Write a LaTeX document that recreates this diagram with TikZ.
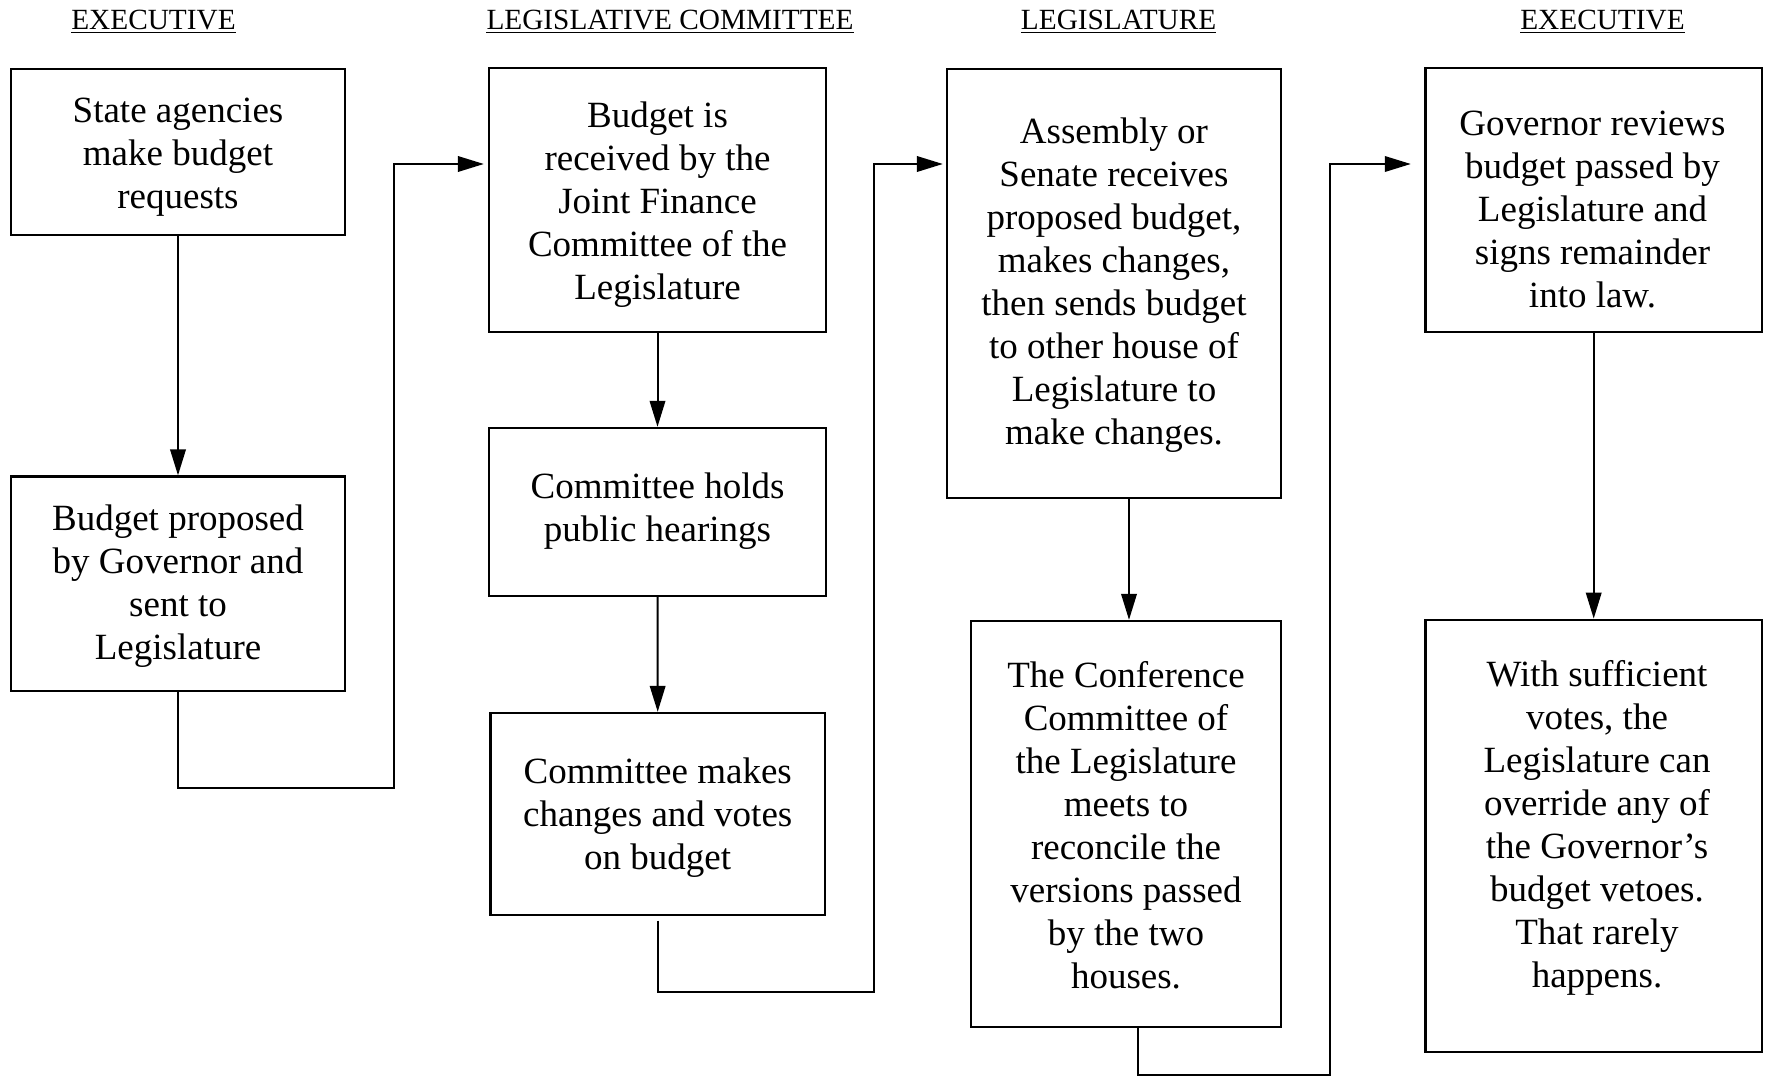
\documentclass[tikz,border=0pt]{standalone}
\usepackage{fontspec}
\setmainfont{Liberation Serif}
\usetikzlibrary{arrows.meta,calc}
\begin{document}
\begin{tikzpicture}[x=1pt,y=-1pt,
  box/.style={draw, line width=2.3pt, inner sep=0pt},
  txt/.style={align=center, font=\fontsize{37}{43}\selectfont, inner sep=0pt},
  hdr/.style={font=\fontsize{29.3}{33}\selectfont, inner sep=0pt, anchor=base},
  uline/.style={line width=1.4pt},
  conn/.style={line width=2pt},
  arr/.style={conn, -{Triangle[length=26pt,width=15.5pt]}}]
\useasboundingbox (0,0) rectangle (1771,1076);

% headers
\node[hdr] (h1) at (153.5,29.3) {EXECUTIVE};
\node[hdr] (h2) at (670,29.3) {LEGISLATIVE COMMITTEE};
\node[hdr] (h3) at (1118.6,29.3) {LEGISLATURE};
\node[hdr] (h4) at (1602.5,29.3) {EXECUTIVE};
\foreach \h in {h1,h2,h3,h4}{
  \draw[uline] ([yshift=-3pt]\h.base west) -- ([yshift=-3pt]\h.base east);
}

% boxes
\node[box, minimum width=334pt, minimum height=166pt] (A) at (178,152) {};
\node[box, minimum width=334pt, minimum height=214.5pt] (B) at (178,583.8) {};
\node[box, minimum width=337pt, minimum height=264pt] (C) at (657.5,200) {};
\node[box, minimum width=337pt, minimum height=168pt] (D) at (657.5,512) {};
\node[box, minimum width=334.5pt, minimum height=202pt] (E) at (657.7,814) {};
\node[box, minimum width=334pt, minimum height=429pt] (F) at (1114,283.5) {};
\node[box, minimum width=310pt, minimum height=406pt] (G) at (1126,824) {};
\node[box, minimum width=336.5pt, minimum height=264pt] (H) at (1593.7,200) {};
\node[box, minimum width=336.5pt, minimum height=432.5pt] (I) at (1593.7,836) {};

% texts
\node[txt] (tA) at (178,157.5) {State agencies\\make budget\\requests};
\node[txt] (tB) at (178,586.5) {Budget proposed\\by Governor and\\sent to\\Legislature};
\node[txt] (tC) at (657.5,205) {Budget is\\received by the\\Joint Finance\\Committee of the\\Legislature};
\node[txt] (tD) at (657.5,511.5) {Committee holds\\public hearings};
\node[txt] (tE) at (657.7,817.5) {Committee makes\\changes and votes\\on budget};
\node[txt] (tF) at (1114,285) {Assembly or\\Senate receives\\proposed budget,\\makes changes,\\then sends budget\\to other house of\\Legislature to\\make changes.};
\node[txt] (tG) at (1126,825) {The Conference\\Committee of\\the Legislature\\meets to\\reconcile the\\versions passed\\by the two\\houses.};
\node[txt] (tH) at (1592.5,209.5) {Governor reviews\\budget passed by\\Legislature and\\signs remainder\\into law.};
\node[txt] (tI) at (1597,828) {With sufficient\\votes, the\\Legislature can\\override any of\\the Governor’s\\budget vetoes.\\That rarely\\happens.};

% helper coordinates
\coordinate (p1) at (393.8,787.5);
\coordinate (p2) at (393.8,164);
\coordinate (q1) at (873.7,991.5);
\coordinate (q2) at (873.7,164);
\coordinate (fg) at (1129,0);
\coordinate (gx) at (1138,0);
\coordinate (r1) at (1329.5,1074.5);
\coordinate (r2) at (1329.5,164);

% connectors
\draw[arr] (A.south) -- (B.north);
\draw[arr, shorten >=4pt] (B.south) |- (p1) -- (p2) -- (C.west |- p2);
\draw[arr] (C.south) -- (D.north);
\draw[arr] (D.south) -- (E.north);
\draw[arr, shorten >=3pt] ([yshift=-4.5pt]E.south) |- (q1) -- (q2) -- (F.west |- q2);
\draw[arr] (F.south -| fg) -- (G.north -| fg);
\draw[arr, shorten >=13.5pt] (G.south -| gx) |- (r1) -- (r2) -- (H.west |- r2);
\draw[arr] (H.south) -- (I.north);
\end{tikzpicture}
\end{document}
